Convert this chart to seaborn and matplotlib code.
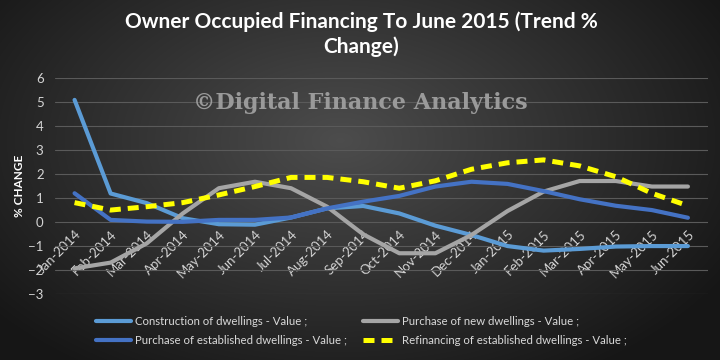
import numpy as np
import pandas as pd
import matplotlib
matplotlib.use("Agg")
import matplotlib.pyplot as plt
import seaborn as sns

months = ["Jan-2014", "Feb-2014", "Mar-2014", "Apr-2014", "May-2014", "Jun-2014",
          "Jul-2014", "Aug-2014", "Sep-2014", "Oct-2014", "Nov-2014", "Dec-2014",
          "Jan-2015", "Feb-2015", "Mar-2015", "Apr-2015", "May-2015", "Jun-2015"]

construction = [5.1, 1.2, 0.8, 0.17, -0.08, -0.1, 0.2, 0.58, 0.68, 0.37, -0.14, -0.53,
                -0.99, -1.18, -1.11, -1.01, -0.99, -0.99]
new_dwell = [-1.92, -1.68, -0.88, 0.37, 1.42, 1.69, 1.42, 0.65, -0.5, -1.29, -1.29, -0.53,
             0.47, 1.28, 1.72, 1.72, 1.49, 1.49]
established = [1.21, 0.1, 0.03, 0.02, 0.1, 0.1, 0.2, 0.58, 0.86, 1.1, 1.49, 1.69,
               1.6, 1.3, 0.96, 0.69, 0.51, 0.19]
refinancing = [0.82, 0.51, 0.65, 0.82, 1.14, 1.49, 1.87, 1.87, 1.69, 1.42, 1.73, 2.21,
               2.48, 2.6, 2.35, 1.9, 1.21, 0.69]

series_names = ["Construction of dwellings - Value ;",
                "Purchase of new dwellings - Value ;",
                "Purchase of established dwellings - Value ;",
                "Refinancing of established dwellings - Value ;"]
colors = ["#5B9BD5", "#A5A5A5", "#4472C4", "#FFFF00"]

sns.set_style("dark")
plt.rcParams["font.family"] = ["Lato", "DejaVu Sans"]

fig = plt.figure(figsize=(7.2, 3.6), dpi=100)

# radial dark background
bg = fig.add_axes([0, 0, 1, 1], zorder=-10)
yy, xx = np.mgrid[0:360, 0:720]
r = np.sqrt(((xx - 340) / 420.0) ** 2 + ((yy - 140) / 260.0) ** 2)
shade = np.clip(0.30 - 0.20 * r, 0.09, 0.30)
bg.imshow(np.dstack([shade, shade, shade]), aspect="auto", extent=[0, 1, 0, 1])
bg.axis("off")

ax = fig.add_axes([0.076, 0.1825, 0.907, 0.6], zorder=1)
ax.set_facecolor("none")

x = np.arange(len(months))
for vals, name, c in zip([construction, new_dwell, established, refinancing], series_names, colors):
    df = pd.DataFrame({"x": x, "y": vals})
    if c == "#FFFF00":
        sns.lineplot(data=df, x="x", y="y", ax=ax, color=c, lw=3.6, label=name,
                     linestyle=(0, (2.2, 1.4)), zorder=5)
    else:
        sns.lineplot(data=df, x="x", y="y", ax=ax, color=c, lw=3.0, label=name, zorder=4)

ax.set_xlim(-0.55, 17.55)
ax.set_ylim(-3, 6)
ax.set_yticks(range(-3, 7))
ax.grid(axis="y", color="#5a5a5a", lw=0.8)
ax.grid(axis="x", visible=False)
for s in ax.spines.values():
    s.set_visible(False)
ax.spines["bottom"].set_position(("data", 0))
ax.set_xticks(x)
ax.set_xticklabels(months, rotation=45, ha="right", rotation_mode="anchor")
ax.tick_params(axis="x", length=0, pad=4, colors="#d4d4d4", labelsize=9.5)
ax.tick_params(axis="y", length=0, pad=8, colors="#d4d4d4", labelsize=9.5)
ax.set_xlabel("")
ax.set_ylabel("% CHANGE", color="white", fontsize=8.5, fontweight="bold", labelpad=2)

fig.text(0.5, 0.713, "©Digital Finance Analytics",
         ha="center", va="center", fontsize=16, fontweight="bold",
         family=["DejaVu Serif"], color="#9a9a9a", zorder=2)

fig.text(0.502, 0.905, "Owner Occupied Financing To June 2015 (Trend %\nChange)",
         ha="center", va="center", color="white", fontsize=15, fontweight="bold",
         linespacing=1.3)

handles, labels = ax.get_legend_handles_labels()
order = [0, 2, 1, 3]
leg = ax.legend([handles[i] for i in order], [labels[i] for i in order],
                loc="center", bbox_to_anchor=(0.47, -0.17), ncol=2, frameon=False,
                fontsize=8.2, labelcolor="#d9d9d9", handlelength=3.1, columnspacing=1.4,
                handletextpad=0.35, borderaxespad=0, labelspacing=0.75)
leg.set_zorder(6)

fig.savefig("out.png", dpi=100)
